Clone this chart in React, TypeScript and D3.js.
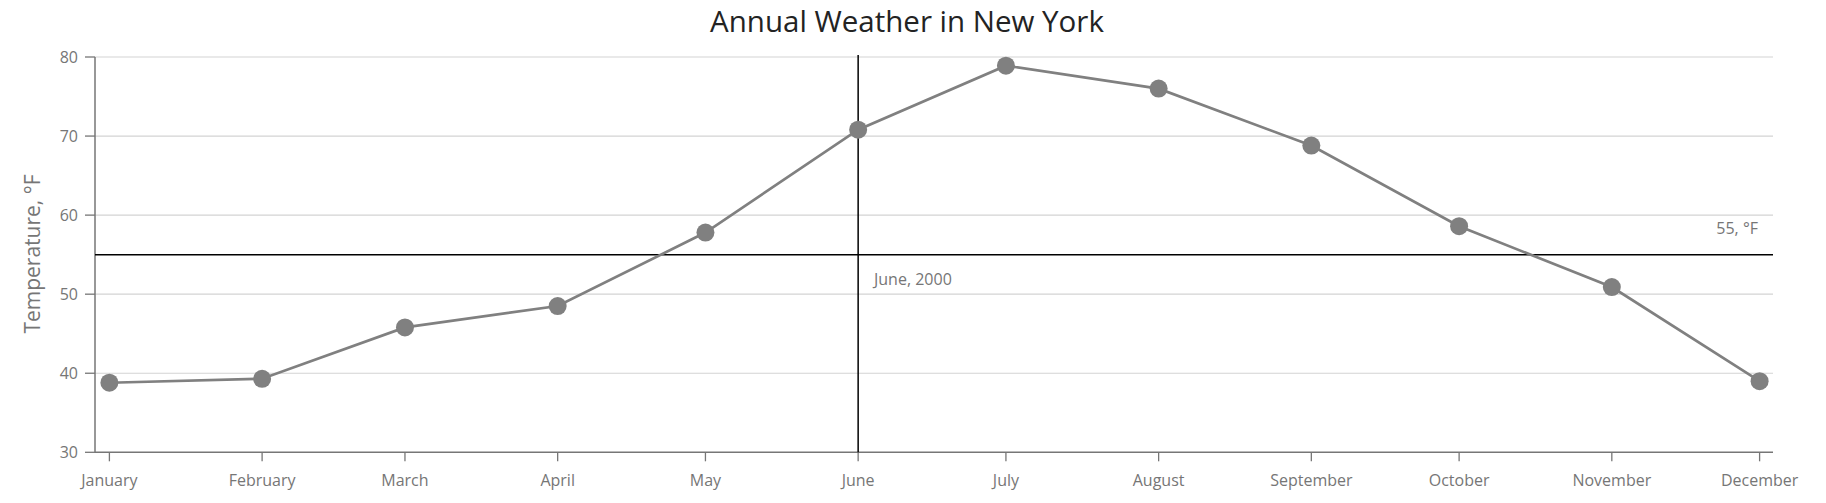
import React from "react";
import * as d3 from "d3";

const months = ["January","February","March","April","May","June","July","August","September","October","November","December"];
const temperatures = [38.8, 39.3, 45.8, 48.5, 57.8, 70.8, 78.9, 76.0, 68.8, 58.6, 50.9, 39.0];
const yTicks = [30, 40, 50, 60, 70, 80];
const constantValue = 55;
const constantDateMonth = 5; // June
const year = 2000;

const W = 1826, H = 503;
const plotLeft = 95, plotRight = 1773, plotTop = 57, plotBottom = 452.3;
const FONT = "'Open Sans', 'Noto Sans', sans-serif";
const labelColor = "#767676";

export default function App() {
  const dates = months.map((_, i) => new Date(year, i, 1));
  const x = d3.scaleTime().domain([dates[0], dates[11]]).range([109.4, 1759.6]);
  const y = d3.scaleLinear().domain([30, 80]).range([plotBottom, plotTop]);
  const line = d3.line<number>().x((_, i) => x(dates[i])).y((d) => y(d));
  const cx = x(new Date(year, constantDateMonth, 1));
  const cy = y(constantValue);

  return (
    <div style={{ position: "absolute", left: 0, top: 0 }}>
      <svg width={W} height={H} style={{ display: "block", fontFamily: FONT }}>
        <text x={907} y={32} textAnchor="middle" fontSize={29.5} fill="#232323">Annual Weather in New York</text>
        {yTicks.map((t) => (
          <g key={t}>
            {t !== 30 && <line x1={plotLeft} x2={plotRight} y1={y(t)} y2={y(t)} stroke="#d3d3d3" strokeWidth={1.2} />}
            <line x1={plotLeft - 10} x2={plotLeft} y1={y(t)} y2={y(t)} stroke="#767676" strokeWidth={1.3} />
            <text x={plotLeft - 17} y={y(t)} dy="0.35em" textAnchor="end" fontSize={16} fill={labelColor}>{t}</text>
          </g>
        ))}
        <line x1={plotLeft} x2={plotLeft} y1={plotTop} y2={plotBottom} stroke="#767676" strokeWidth={1.5} />
        <line x1={plotLeft} x2={plotRight} y1={plotBottom} y2={plotBottom} stroke="#767676" strokeWidth={1.5} />
        {dates.map((d, i) => (
          <g key={i}>
            <line x1={x(d)} x2={x(d)} y1={plotBottom} y2={plotBottom + 9} stroke="#767676" strokeWidth={1.3} />
            <text x={x(d)} y={486} textAnchor="middle" fontSize={16} fill={labelColor}>{months[i]}</text>
          </g>
        ))}
        <text transform={`translate(40,254) rotate(-90)`} textAnchor="middle" fontSize={21} fill={labelColor}>Temperature, °F</text>
        <line x1={plotLeft} x2={plotRight} y1={cy} y2={cy} stroke="#000" strokeWidth={1.5} />
        <line x1={cx} x2={cx} y1={plotTop - 2} y2={plotBottom} stroke="#000" strokeWidth={1.5} />
        <text x={1758} y={234} textAnchor="end" fontSize={16} fill={labelColor}>55, °F</text>
        <text x={874} y={285} fontSize={16} fill={labelColor}>June, 2000</text>
        <path d={line(temperatures) || ""} fill="none" stroke="#808080" strokeWidth={2.7} />
        {temperatures.map((v, i) => (
          <circle key={i} cx={x(dates[i])} cy={y(v)} r={9} fill="#808080" />
        ))}
      </svg>
    </div>
  );
}
